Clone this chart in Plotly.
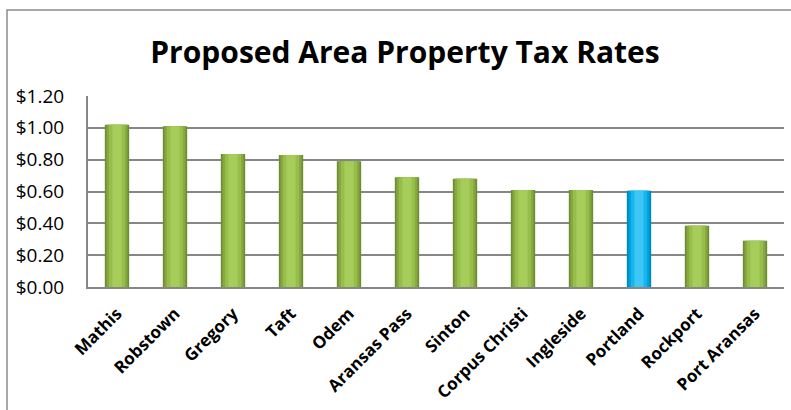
import plotly.graph_objects as go

cities = ["Mathis", "Robstown", "Gregory", "Taft", "Odem", "Aransas Pass", "Sinton",
          "Corpus Christi", "Ingleside", "Portland", "Rockport", "Port Aransas"]
rates = [1.02, 1.01, 0.835, 0.83, 0.79, 0.69, 0.68, 0.61, 0.61, 0.605, 0.385, 0.29]
highlight = "Portland"
y_ticks = [0, 0.2, 0.4, 0.6, 0.8, 1.0, 1.2]
y_tick_text = ["$0.00", "$0.20", "$0.40", "$0.60", "$0.80", "$1.00", "$1.20"]

green_layers = ["#6F8E34", "#86A83F", "#97BE4B", "#A6CC5A"]
blue_layers = ["#0089BE", "#00A0DA", "#13B6EE", "#3FC6F4"]
layer_widths = [0.42, 0.36, 0.28, 0.16]

fig = go.Figure()
for i, w in enumerate(layer_widths):
    colors = [blue_layers[i] if c == highlight else green_layers[i] for c in cities]
    fig.add_trace(go.Bar(x=cities, y=rates, width=w, marker=dict(color=colors, line=dict(width=0)),
                         hoverinfo="x+y", showlegend=False))

fig.update_layout(
    width=791, height=410,
    margin=dict(l=88, r=7, t=96, b=121),
    paper_bgcolor="white", plot_bgcolor="white",
    barmode="overlay",
    font=dict(family="'Open Sans', sans-serif", color="black"),
    title=dict(text="<b>Proposed Area Property Tax Rates</b>", x=405 / 791, xanchor="center",
               y=1 - 52 / 410, yref="container", yanchor="middle",
               font=dict(size=30, family="'Open Sans', sans-serif", color="black")),
    xaxis=dict(tickangle=-45, tickfont=dict(size=17, family="'Open Sans', sans-serif", color="black", weight="bold"),
               showline=True, linecolor="#868686", linewidth=2, showgrid=False, ticks="",
               ticklabelstandoff=8, fixedrange=True),
    yaxis=dict(range=[0, 1.2], tickvals=y_ticks, ticktext=y_tick_text,
               tickfont=dict(size=19, family="'Open Sans', sans-serif", color="black"),
               showline=True, linecolor="#868686", linewidth=2,
               showgrid=True, gridcolor="#868686", gridwidth=2, zeroline=False,
               ticks="", ticklabelstandoff=18),
    shapes=[dict(type="rect", xref="paper", yref="paper",
                 x0=(7 - 88) / 696, x1=1.2, y0=-1, y1=(410 - 9 - 121) / 193,
                 line=dict(color="#8C8C8C", width=1.5), fillcolor="rgba(0,0,0,0)", layer="below")],
)

fig.write_html("out.html")
